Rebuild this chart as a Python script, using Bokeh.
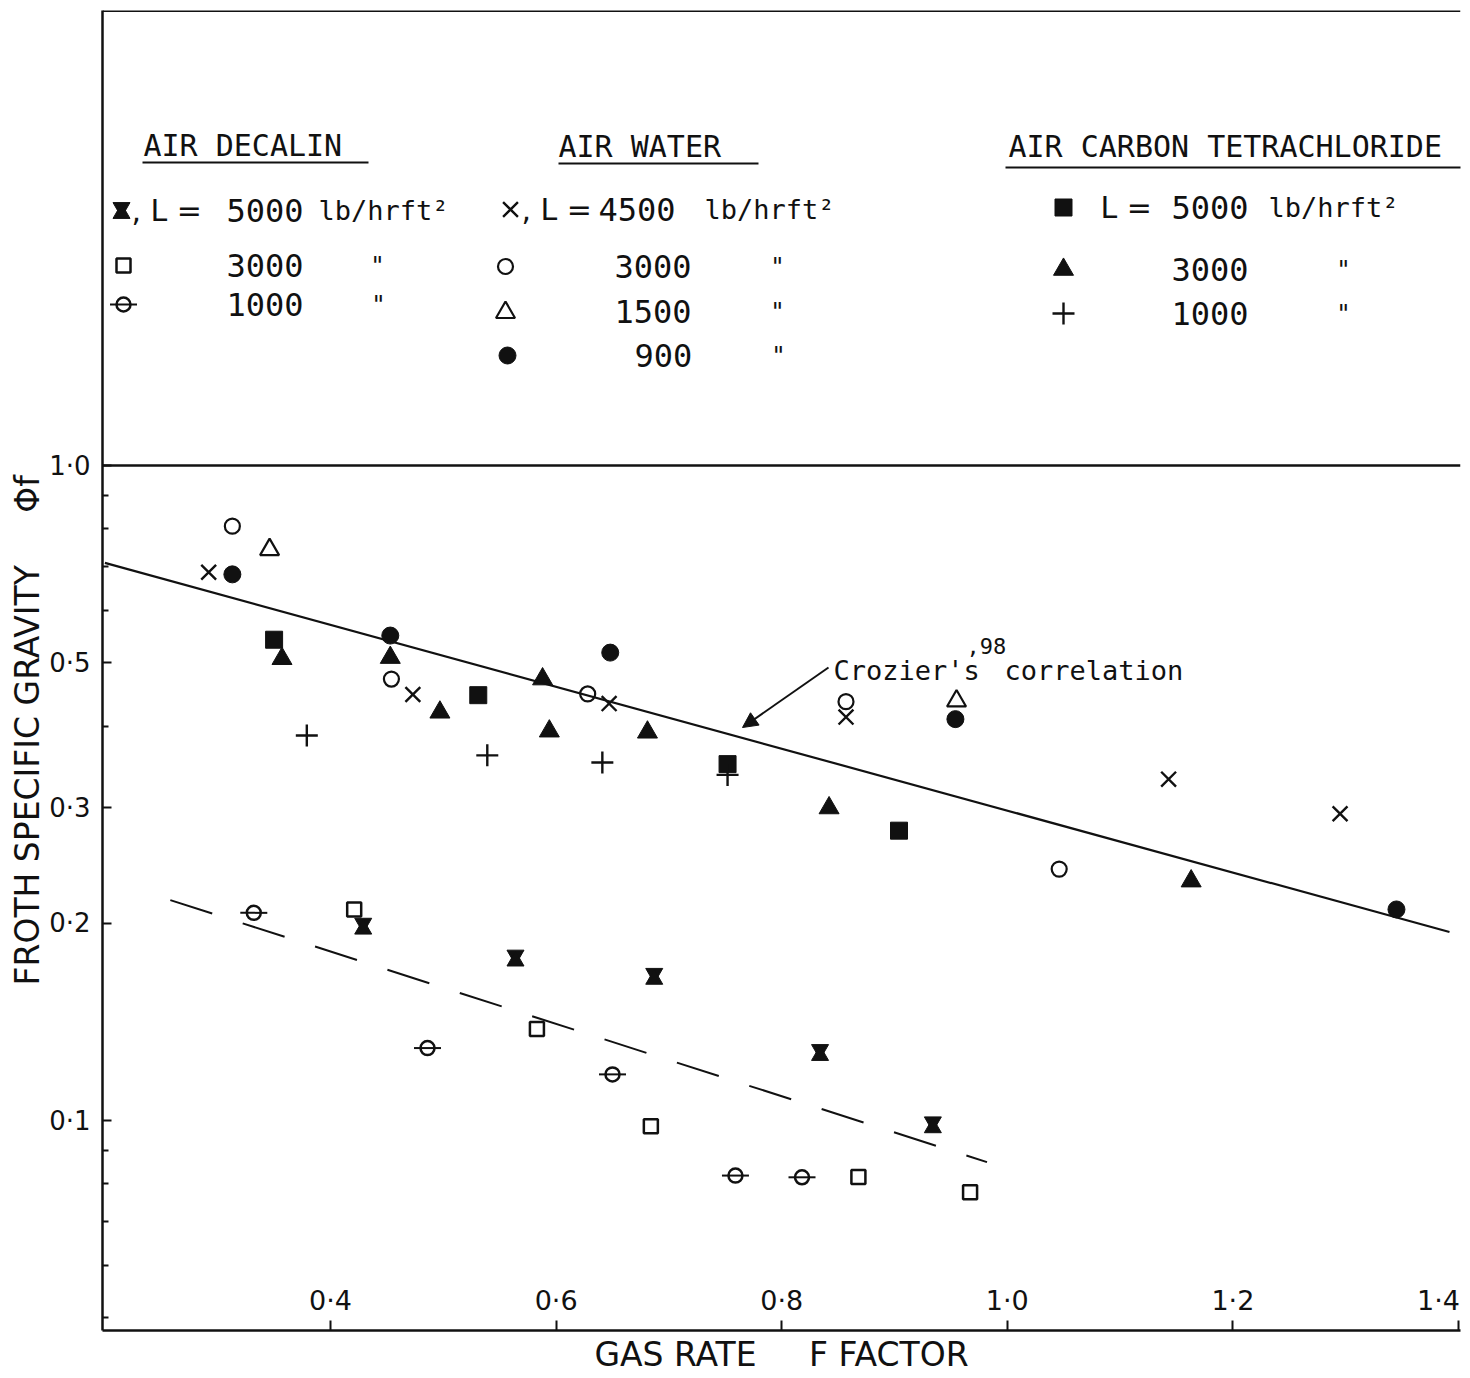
import math
from bokeh.plotting import figure
from bokeh.models import Range1d, FixedTicker, Span, Arrow, NormalHead, Title
from bokeh.core.properties import value
from bokeh.embed import file_html
from bokeh.resources import INLINE

# ---------------- data ----------------
# Air - Decalin
dec5000_x = [0.429, 0.564, 0.687, 0.834, 0.934]
dec5000_y = [0.198, 0.177, 0.166, 0.127, 0.0985]
dec3000_x = [0.421, 0.583, 0.684, 0.868, 0.967]
dec3000_y = [0.210, 0.138, 0.098, 0.082, 0.0777]
dec1000_x = [0.332, 0.486, 0.650, 0.759, 0.818]
dec1000_y = [0.2075, 0.129, 0.1176, 0.0824, 0.0819]
# Air - Water
wat4500_x = [0.292, 0.473, 0.647, 0.857, 1.143, 1.295]
wat4500_y = [0.687, 0.447, 0.433, 0.413, 0.332, 0.294]
wat3000_x = [0.313, 0.454, 0.628, 0.857, 1.046]
wat3000_y = [0.808, 0.472, 0.448, 0.436, 0.242]
wat1500_x = [0.346, 0.955]
wat1500_y = [0.744, 0.437]
wat900_x = [0.313, 0.453, 0.648, 0.954, 1.345]
wat900_y = [0.682, 0.550, 0.518, 0.410, 0.210]
# Air - Carbon tetrachloride
ccl5000_x = [0.350, 0.531, 0.752, 0.904]
ccl5000_y = [0.542, 0.446, 0.350, 0.277]
ccl3000_x = [0.357, 0.453, 0.497, 0.588, 0.594, 0.681, 0.842, 1.163]
ccl3000_y = [0.507, 0.509, 0.420, 0.472, 0.393, 0.3915, 0.300, 0.232]
ccl1000_x = [0.379, 0.539, 0.641, 0.752]
ccl1000_y = [0.387, 0.361, 0.352, 0.337]
# correlation lines
crozier_x = [0.200, 1.392]
crozier_y = [0.710, 0.194]
decalin_fit_x = [0.258, 0.982]
decalin_fit_y = [0.217, 0.0864]

x_ticks = [0.4, 0.6, 0.8, 1.0, 1.2, 1.4]
x_tick_labels = ["0·4", "0·6", "0·8", "1·0", "1·2", "1·4"]
y_ticks = [0.1, 0.2, 0.3, 0.5, 1.0]
y_tick_labels = ["0·1", "0·2", "0·3", "0·5", "1·0"]
y_minor_ticks = [0.05, 0.06, 0.07, 0.08, 0.09, 0.4, 0.6, 0.7, 0.8, 0.9]

# ---------------- layout helpers (page pixel -> data) ----------------
PX_X0, PX_PER_X, X_REF = 330.0, 1128.0, 0.4
PX_Y0, PX_PER_DEC = 465.0, 655.0


def dx(px):
    return X_REF + (px - PX_X0) / PX_PER_X


def dy(py):
    return 10 ** ((PX_Y0 - py) / PX_PER_DEC)


INK = "#111111"
SANS = "DejaVu Sans"
MONO = "DejaVu Sans Mono"
NB = "\u00a0"

p = figure(width=1466, height=1376,
           x_range=Range1d(dx(102), dx(1460)), y_range=Range1d(dy(1330), dy(10)),
           y_axis_type="log", output_backend="svg", toolbar_location=None,
           min_border_left=102, min_border_right=6, min_border_top=10, min_border_bottom=46)
p.outline_line_color = None
p.grid.visible = False
p.background_fill_color = "white"
p.border_fill_color = "white"

# x axis (ticks inside, tick labels drawn inside the frame)
xa = p.xaxis[0]
xa.ticker = FixedTicker(ticks=x_ticks)
xa.major_label_overrides = {t: "" for t in x_ticks}
xa.major_label_text_font_size = "1px"
xa.major_label_standoff = 0
xa.major_tick_in = 10
xa.major_tick_out = 0
xa.minor_tick_line_color = None
xa.axis_line_width = 2.5
xa.axis_line_color = INK
xa.major_tick_line_width = 2
xa.major_tick_line_color = INK
xa.axis_label = "GAS RATE" + NB * 5 + "F FACTOR"
xa.axis_label_text_font = SANS
xa.axis_label_text_font_size = "33px"
xa.axis_label_text_font_style = "normal"
xa.axis_label_text_color = INK
xa.axis_label_standoff = 4

# y axis (log)
ya = p.yaxis[0]
ya.ticker = FixedTicker(ticks=y_ticks, minor_ticks=y_minor_ticks)
ya.major_label_overrides = dict(zip(y_ticks, y_tick_labels))
ya.major_tick_in = 9
ya.major_tick_out = 0
ya.minor_tick_in = 6
ya.minor_tick_out = 0
ya.axis_line_width = 2.5
ya.axis_line_color = INK
ya.major_tick_line_width = 2
ya.minor_tick_line_width = 2
ya.major_tick_line_color = INK
ya.minor_tick_line_color = INK
ya.major_label_standoff = 12
ya.major_label_text_font = SANS
ya.major_label_text_font_size = "26px"
ya.major_label_text_color = INK

# y title (with the phi symbol further up the same column)
p.add_layout(Title(text="FROTH SPECIFIC GRAVITY" + NB * 5 + "Φf", align="left", offset=345,
                   standoff=0, text_font=SANS, text_font_size="33px", text_font_style="normal",
                   text_color=INK), "left")

# frame top line and the 1.0 line
p.add_layout(Span(location=p.y_range.end, dimension="width", line_color=INK, line_width=3))
p.add_layout(Span(location=1.0, dimension="width", line_color=INK, line_width=2.5))

# x tick labels inside the frame
p.text(x=x_ticks, y=[p.y_range.start] * len(x_ticks), text=x_tick_labels,
       x_offset=[0, 0, 0, 0, 0, -20], y_offset=-30,
       text_font=value(SANS), text_font_size=value("27px"), text_color=INK,
       text_align="center", text_baseline="middle")

# correlation lines
p.line(crozier_x, crozier_y, line_color=INK, line_width=2.2)
p.line(decalin_fit_x, decalin_fit_y, line_color=INK, line_width=2, line_dash="44 32")

# ---------------- marker styles ----------------
HG = 10 ** (3.0 / PX_PER_DEC)


def hourglass(xs, ys):
    p.scatter(xs, [y * HG for y in ys], marker="inverted_triangle", size=17,
              fill_color=INK, line_color=INK, line_width=1)
    p.scatter(xs, [y / HG for y in ys], marker="triangle", size=17,
              fill_color=INK, line_color=INK, line_width=1)


def open_square(xs, ys):
    p.scatter(xs, ys, marker="square", size=14, fill_color=None, line_color=INK, line_width=2.5)


def barred_circle(xs, ys):
    p.scatter(xs, ys, marker="dash", size=27, line_color=INK, line_width=2)
    p.scatter(xs, ys, marker="circle", size=14, fill_color=None, line_color=INK, line_width=2.5)


def x_mark(xs, ys):
    p.scatter(xs, ys, marker="x", size=21, line_color=INK, line_width=2.4)


def open_circle(xs, ys):
    p.scatter(xs, ys, marker="circle", size=15, fill_color=None, line_color=INK, line_width=2.2)


def open_triangle(xs, ys):
    p.scatter(xs, ys, marker="triangle", size=19, fill_color=None, line_color=INK, line_width=2.2)


def dot(xs, ys):
    p.scatter(xs, ys, marker="circle", size=17, fill_color=INK, line_color=INK)


def solid_square(xs, ys):
    p.scatter(xs, ys, marker="square", size=17, fill_color=INK, line_color=INK)


def solid_triangle(xs, ys):
    p.scatter(xs, ys, marker="triangle", size=20, fill_color=INK, line_color=INK)


def plus(xs, ys):
    p.scatter(xs, ys, marker="cross", size=22, line_color=INK, line_width=2.4)


# data points
hourglass(dec5000_x, dec5000_y)
open_square(dec3000_x, dec3000_y)
barred_circle(dec1000_x, dec1000_y)
x_mark(wat4500_x, wat4500_y)
open_circle(wat3000_x, wat3000_y)
open_triangle(wat1500_x, wat1500_y)
dot(wat900_x, wat900_y)
solid_square(ccl5000_x, ccl5000_y)
solid_triangle(ccl3000_x, ccl3000_y)
plus(ccl1000_x, ccl1000_y)


# ---------------- legend (drawn as in the original) ----------------
def txt(px, py, s, size="32px", font=MONO, align="left", baseline="middle"):
    p.text(x=[dx(px)], y=[dy(py)], text=[s], text_font=value(font),
           text_font_size=value(size), text_color=INK,
           text_align=align, text_baseline=baseline)


def underline(px0, px1, py):
    p.line([dx(px0), dx(px1)], [dy(py), dy(py)], line_color=INK, line_width=2)


HEAD = "30px"
UNIT = "27px"
DITTO = "24px"

# column 1: air decalin
txt(143, 145, "AIR DECALIN", size=HEAD)
underline(142, 368, 162)
hourglass([dx(121)], [dy(210)])
txt(131, 210, ", L =", font=SANS, size="30px")
txt(226, 210, "5000")
txt(318, 210, "lb/hrft²", size=UNIT)
open_square([dx(123)], [dy(265)])
txt(226, 265, "3000")
txt(377, 265, '"', size=DITTO, align="center")
barred_circle([dx(123)], [dy(304)])
txt(226, 304, "1000")
txt(378, 304, '"', size=DITTO, align="center")

# column 2: air water
txt(558, 146, "AIR WATER", size=HEAD)
underline(558, 758, 163)
x_mark([dx(510)], [dy(209)])
txt(521, 209, ", L =", font=SANS, size="30px")
txt(598, 209, "4500")
txt(704, 209, "lb/hrft²", size=UNIT)
open_circle([dx(505)], [dy(266)])
txt(614, 266, "3000")
txt(777, 266, '"', size=DITTO, align="center")
open_triangle([dx(505)], [dy(312)])
txt(614, 311, "1500")
txt(777, 311, '"', size=DITTO, align="center")
dot([dx(507)], [dy(355)])
txt(634, 355, "900")
txt(778, 355, '"', size=DITTO, align="center")

# column 3: air carbon tetrachloride
txt(1008, 146, "AIR CARBON TETRACHLORIDE", size=HEAD)
underline(1005, 1466, 167)
solid_square([dx(1063)], [dy(207)])
txt(1100, 207, "L =", font=SANS, size="30px")
txt(1171, 207, "5000")
txt(1268, 207, "lb/hrft²", size=UNIT)
solid_triangle([dx(1063)], [dy(269)])
txt(1171, 269, "3000")
txt(1343, 269, '"', size=DITTO, align="center")
plus([dx(1063)], [dy(313)])
txt(1171, 313, "1000")
txt(1343, 313, '"', size=DITTO, align="center")

# annotation of Crozier's correlation
txt(833, 670, "Crozier's", size="27px", baseline="alphabetic")
txt(966, 645, ",98", size="22px", baseline="alphabetic")
txt(1004, 670, "correlation", size="27px", baseline="alphabetic")
p.add_layout(Arrow(end=NormalHead(size=15, fill_color=INK, line_color=INK, line_width=1),
                   x_start=dx(828), y_start=dy(667), x_end=dx(742), y_end=dy(727),
                   line_color=INK, line_width=2))

open("out.html", "w").write(file_html(p, INLINE))
